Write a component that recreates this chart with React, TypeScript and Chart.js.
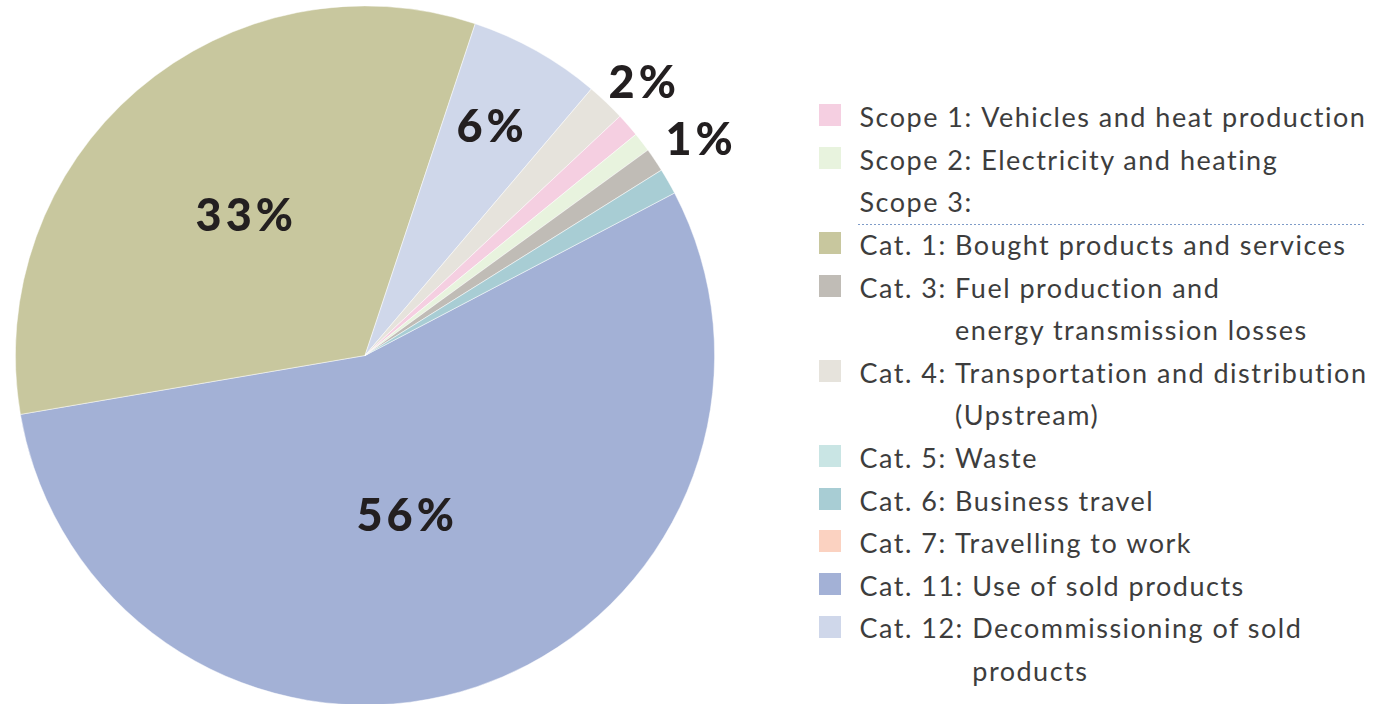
import React, { useEffect, useRef } from "react";
import { Chart, registerables } from "chart.js";

Chart.register(...registerables);

// ---- data (legend order) ----
const legendPrefixes = [
  "Scope 1:",
  "Scope 2:",
  "Cat. 1:",
  "Cat. 3:",
  "Cat. 4:",
  "Cat. 5:",
  "Cat. 6:",
  "Cat. 7:",
  "Cat. 11:",
  "Cat. 12:",
];
const legendTexts = [
  ["Vehicles and heat production"],
  ["Electricity and heating"],
  ["Bought products and services"],
  ["Fuel production and", "energy transmission losses"],
  ["Transportation and distribution", "(Upstream)"],
  ["Waste"],
  ["Business travel"],
  ["Travelling to work"],
  ["Use of sold products"],
  ["Decommissioning of sold", "products"],
];
const shares = [1.1, 0.9, 32.8, 1.1, 1.8, 0, 1.2, 0, 55.0, 6.1];
const sliceLabels = ["", "", "33%", "1%", "2%", "", "", "", "56%", "6%"];
const colors = [
  "#f5cfe1",
  "#e8f3de",
  "#c8c79e",
  "#c0bcb6",
  "#e6e3dc",
  "#c9e5e4",
  "#a8cdd4",
  "#fbd2c1",
  "#a3b1d6",
  "#cfd7ea",
];
const scope3Header = "Scope 3:";
// clockwise order of the slices in the pie
const pieOrder = [8, 2, 9, 4, 0, 1, 3, 6];

// label placement: [fraction along slice angle, radius factor]
const labelPlacement: Record<number, [number, number]> = {
  2: [0.5, 0.53],
  8: [0.523, 0.47],
  9: [0.46, 0.75],
  4: [0.77, 1.115],
  3: [0.74, 1.14],
};

const FONT = "Lato, 'Noto Sans', sans-serif";

const labelPlugin = {
  id: "sliceLabels",
  afterDatasetsDraw(chart: any) {
    const meta = chart.getDatasetMeta(0);
    const ctx = chart.ctx;
    ctx.save();
    ctx.fillStyle = "#231f20";
    ctx.font = `900 45px ${FONT}`;
    (ctx as any).letterSpacing = "4px";
    ctx.textAlign = "center";
    ctx.textBaseline = "alphabetic";
    meta.data.forEach((arc: any, i: number) => {
      const src = pieOrder[i];
      const txt = sliceLabels[src];
      const place = labelPlacement[src];
      if (!txt || !place) return;
      const { x, y, startAngle, endAngle, outerRadius } = arc.getProps(
        ["x", "y", "startAngle", "endAngle", "outerRadius"],
        true
      );
      const a = startAngle + (endAngle - startAngle) * place[0];
      const r = outerRadius * place[1];
      const cx = x + Math.cos(a) * r;
      const cy = y + Math.sin(a) * r;
      const m = ctx.measureText(txt);
      ctx.fillText(txt, cx + 2, cy + m.actualBoundingBoxAscent / 2);
    });
    ctx.restore();
  },
};

function PieChart() {
  const ref = useRef<HTMLCanvasElement>(null);
  useEffect(() => {
    if (!ref.current) return;
    const chart = new Chart(ref.current, {
      type: "pie",
      data: {
        labels: pieOrder.map((i) => legendPrefixes[i] + " " + legendTexts[i].join(" ")),
        datasets: [
          {
            data: pieOrder.map((i) => shares[i]),
            backgroundColor: pieOrder.map((i) => colors[i]),
            borderColor: "rgba(255,255,255,0.6)",
            borderWidth: 0.8,
          },
        ],
      },
      options: {
        responsive: false,
        animation: false,
        rotation: 62.3,
        layout: { padding: { left: 15, right: 45, top: 0, bottom: 0 } },
        plugins: {
          legend: { display: false },
          tooltip: { enabled: false },
        },
      },
      plugins: [labelPlugin],
    });
    return () => chart.destroy();
  }, []);
  return (
    <canvas
      ref={ref}
      width={760}
      height={701}
      style={{ position: "absolute", left: 0, top: 4.5, width: 760, height: 701 }}
    />
  );
}

const LINE = 42.6;

function Legend() {
  const rows: React.ReactNode[] = [];
  const textStyle: React.CSSProperties = {
    fontFamily: FONT,
    fontSize: 27,
    letterSpacing: "1.5px",
    color: "#3d3d3d",
    lineHeight: `${LINE}px`,
    whiteSpace: "nowrap",
  };
  const item = (i: number) => (
    <div key={"i" + i} style={{ display: "flex", alignItems: "flex-start" }}>
      <div
        style={{
          width: 22,
          height: 22,
          background: colors[i],
          marginTop: (LINE - 22) / 2 - 2,
          marginRight: 19,
          flex: "none",
        }}
      />
      <div style={{ ...textStyle, flex: "none" }}>{legendPrefixes[i]}&nbsp;</div>
      <div style={{ ...textStyle }}>
        {legendTexts[i].map((t, k) => (
          <div key={k}>{t}</div>
        ))}
      </div>
    </div>
  );
  rows.push(item(0));
  rows.push(item(1));
  rows.push(
    <div key="s3" style={{ ...textStyle, paddingLeft: 41, position: "relative" }}>
      {scope3Header}
      <div
        style={{
          position: "absolute",
          left: 39,
          width: 508,
          bottom: -1,
          height: 1,
          backgroundImage:
            "repeating-linear-gradient(to right, #7f9cc8 0px, #7f9cc8 2px, transparent 2px, transparent 4px)",
        }}
      />
    </div>
  );
  for (let i = 2; i < legendPrefixes.length; i++) rows.push(item(i));
  return (
    <div style={{ position: "absolute", left: 818.5, top: 117 - LINE / 2 + 0.5 }}>{rows}</div>
  );
}

export default function App() {
  return (
    <div
      style={{
        position: "absolute",
        left: 0,
        top: 0,
        width: 1392,
        height: 704,
        background: "#fff",
        overflow: "hidden",
      }}
    >
      <PieChart />
      <Legend />
    </div>
  );
}
